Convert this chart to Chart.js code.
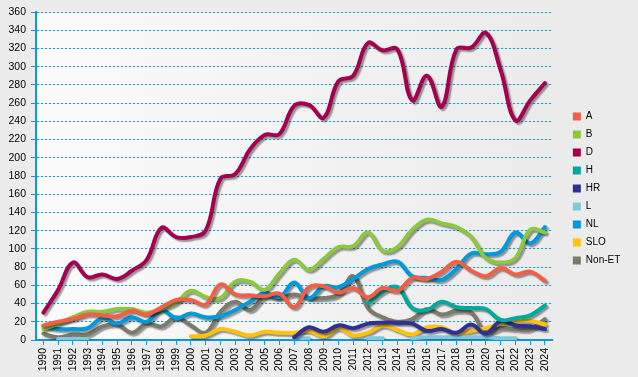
<!DOCTYPE html>
<html>
<head>
<meta charset="utf-8">
<script src="https://cdn.jsdelivr.net/npm/chart.js@4"></script>
<style>
html,body{margin:0;padding:0;background:#ececec;}
#wrap{width:638px;height:377px;}
</style>
</head>
<body>
<div id="wrap"><canvas id="c" width="638" height="377"></canvas></div>
<script>
const years = ['1990','1991','1992','1993','1994','1995','1996','1997','1998','1999','2000','2001','2002','2003','2004','2005','2006','2007','2008','2009','2010','2011','2012','2013','2014','2015','2016','2017','2018','2019','2020','2021','2022','2023','2024'];

const seriesA = [16,20,23,28,27,26,32,28,36,44,44,39,61,50,49,48,51,36,58,59,52,57,47,57,54,68,67,75,86,76,70,79,72,75,65];
const seriesB = [12,18,25,31,31,34,34,30,34,41,54,47,46,64,64,55,73,88,77,89,102,103,118,98,102,121,132,128,124,113,90,85,90,121,118];
const seriesD = [30,55,85,69,72,67,76,88,123,113,113,120,177,182,209,225,226,257,258,244,284,290,326,318,319,263,290,256,319,321,337,296,241,263,282];
const seriesH = [null,null,null,null,null,null,null,null,null,null,null,null,null,null,null,null,null,null,null,null,null,null,40,53,58,35,33,42,36,35,34,22,24,27,38];
const seriesHR = [null,null,null,null,null,null,null,null,null,null,null,null,null,null,null,null,null,3,14,9,16,13,18,19,19,18,10,12,8,17,7,21,16,15,12];
const seriesL = [null,1,1,1,null,null,null,null,null,null,null,null,null,null,null,null,null,2,2,null,null,null,2,2,null,2,3,3,3,3,3,2,2,null,null];
const seriesNL = [15,12,12,13,24,18,25,20,33,24,29,25,26,33,42,52,47,63,46,59,58,67,78,83,86,70,68,66,78,95,94,97,118,106,124];
const seriesSLO = [null,null,null,null,null,null,null,null,null,null,4,5,12,9,5,9,8,8,10,4,13,5,8,16,11,6,14,14,7,10,13,18,21,21,17];
const seriesNonET = [7,3,6,6,15,17,8,18,15,25,16,8,31,42,33,47,46,50,46,46,50,70,35,25,20,23,34,28,32,30,8,13,12,12,23];

const seriesNames = ['A','B','D','H','HR','L','NL','SLO','Non-ET'];
const seriesColors = ['#f15f47','#8dc63f','#a3004f','#00a99d','#2e3192','#7fc9dd','#0099dd','#ffc20e','#7b7b6b'];
const seriesData = [seriesA,seriesB,seriesD,seriesH,seriesHR,seriesL,seriesNL,seriesSLO,seriesNonET];

const yTicksMax = 360, yTickStep = 20;

const bgPlugin = {
  id:'bg',
  beforeDraw(chart){
    const {ctx, chartArea:a} = chart;
    ctx.save();
    ctx.fillStyle = '#ececec';
    ctx.fillRect(0,0,chart.width,chart.height);
    const g = ctx.createLinearGradient(a.left,0,a.right,0);
    g.addColorStop(0,'#fbfbfb');
    g.addColorStop(0.5,'#f3f3f3');
    g.addColorStop(1,'#ebebeb');
    ctx.fillStyle = g;
    ctx.fillRect(a.left,a.top,a.right-a.left,a.bottom-a.top);
    ctx.restore();
  }
};
const shadowPlugin = {
  id:'shadow',
  beforeDatasetDraw(chart){
    const ctx = chart.ctx;
    ctx.save();
    ctx.shadowColor = 'rgba(0,0,0,0.4)';
    ctx.shadowOffsetX = 2;
    ctx.shadowOffsetY = 2;
    ctx.shadowBlur = 1.5;
  },
  afterDatasetDraw(chart){ chart.ctx.restore(); }
};
const legendShift = {
  id:'legendShift',
  afterLayout(chart){
    if (chart.legend) { chart.legend.top -= 6; chart.legend.bottom -= 6; }
  }
};

const axisColor = '#0a9ad9';
const fontFam = '"Liberation Sans", Arial, sans-serif';

new Chart(document.getElementById('c'), {
  type:'line',
  data:{
    labels: years,
    datasets: seriesNames.map((n,i)=>({
      label:n,
      data:seriesData[i],
      borderColor:seriesColors[i],
      backgroundColor:seriesColors[i],
      borderWidth:4,
      pointRadius:0,
      pointHoverRadius:0,
      tension:0.4,
      fill:false,
      borderCapStyle:'round',
      borderJoinStyle:'round',
      spanGaps:false
    }))
  },
  options:{
    responsive:false,
    animation:false,
    events:[],
    layout:{padding:{left:6,top:12,right:7.7,bottom:0}},
    plugins:{
      tooltip:{enabled:false},
      legend:{
        position:'right',
        labels:{
          boxWidth:8, boxHeight:8, padding:8,
          color:'#000',
          font:{family:fontFam,size:10},
          generateLabels(chart){
            const items = Chart.defaults.plugins.legend.labels.generateLabels(chart);
            items.forEach(it=>{it.lineWidth=0; it.strokeStyle='rgba(0,0,0,0)';});
            return items;
          }
        }
      }
    },
    scales:{
      x:{
        offset:true,
        grid:{display:true, drawOnChartArea:false, drawTicks:true, tickLength:5, offset:false, color:axisColor, tickColor:axisColor, lineWidth:1},
        border:{display:true, color:axisColor, width:2},
        ticks:{autoSkip:false, maxRotation:90, minRotation:90, padding:3, color:'#000', font:{family:fontFam,size:10.5}},
        afterFit(s){ s.height = 37; }
      },
      y:{
        min:0, max:yTicksMax,
        grid:{color:axisColor, lineWidth:1, tickLength:5, tickColor:axisColor, tickBorderDash:[], drawTicks:true},
        border:{display:true, color:axisColor, width:2, dash:[2,2]},
        ticks:{stepSize:yTickStep, padding:5, color:'#000', font:{family:fontFam,size:10.5}},
        afterFit(s){ s.width = 30; }
      },
      yR:{
        type:'linear', position:'right', display:true, min:0, max:yTicksMax,
        grid:{display:false, drawTicks:false}, border:{display:false},
        ticks:{display:false},
        afterFit(s){ s.width = 12.5; }
      }
    }
  },
  plugins:[bgPlugin, shadowPlugin, legendShift]
});
</script>
</body>
</html>
